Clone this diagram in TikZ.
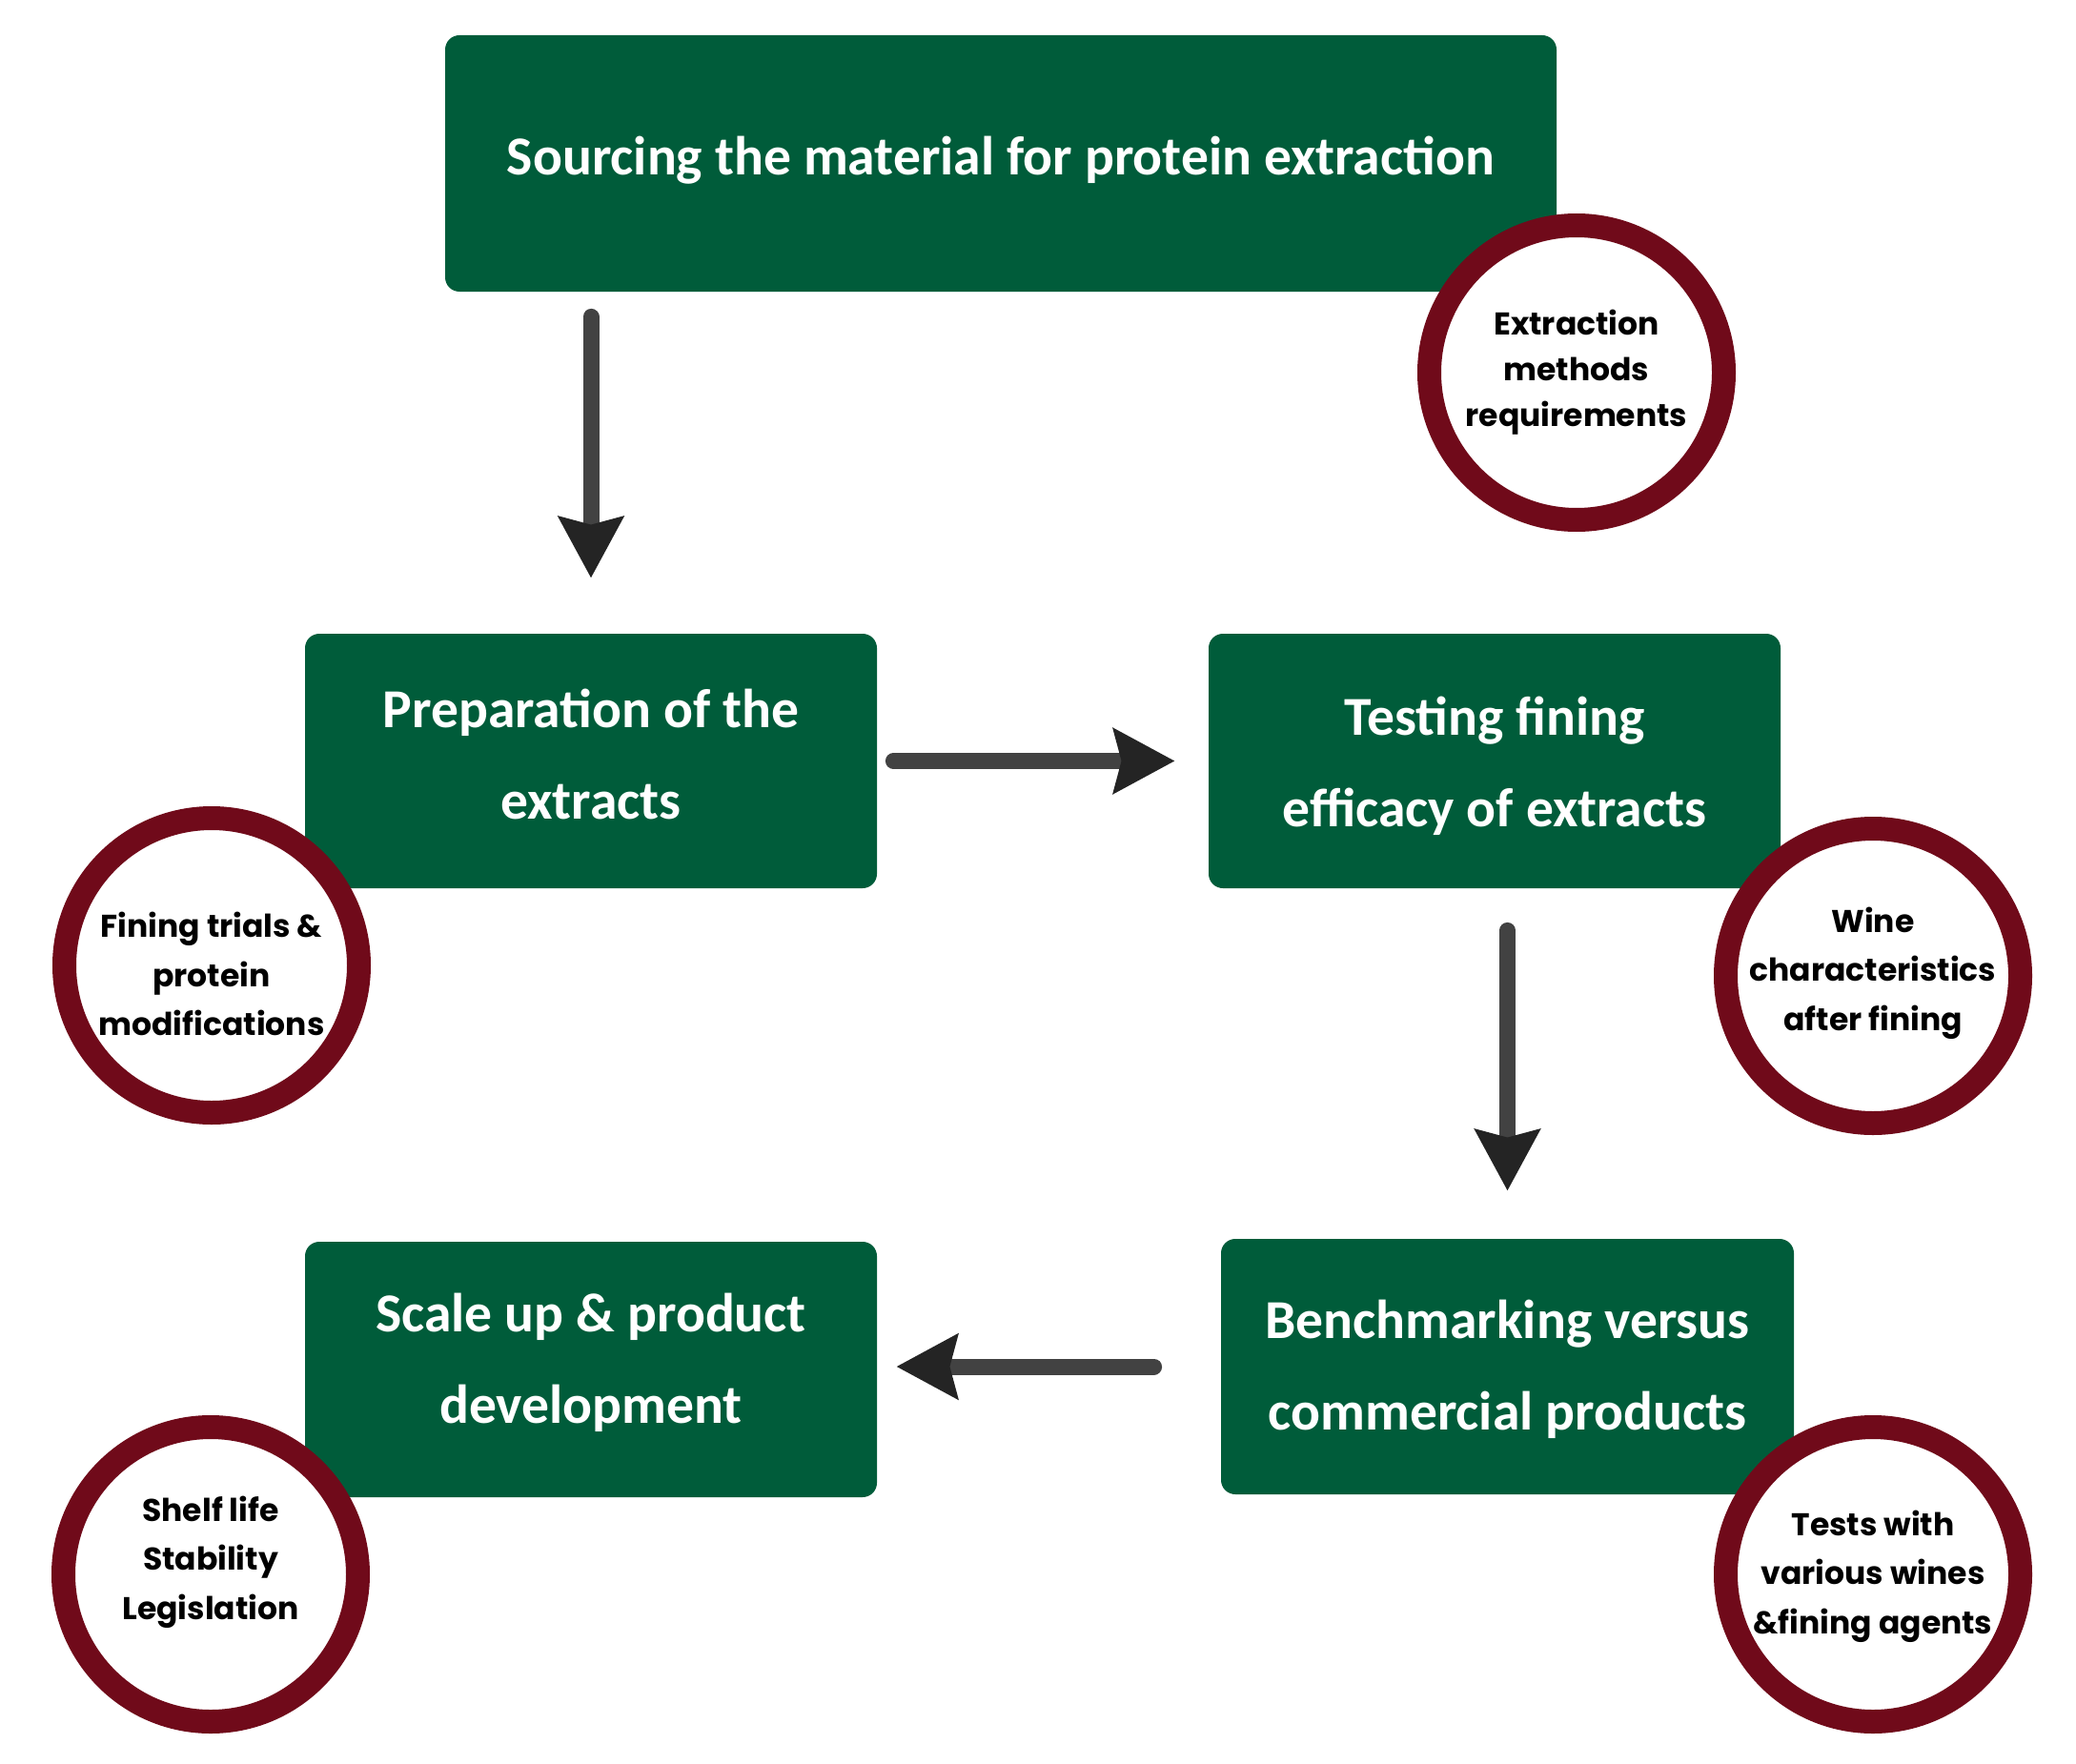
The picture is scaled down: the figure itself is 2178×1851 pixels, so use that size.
\documentclass[tikz,border=0pt]{standalone}
\usepackage{fontspec}
\usetikzlibrary{arrows.meta}
\newfontfamily\boxfont{Carlito}
\newfontfamily\circfont{Poppins}
\definecolor{boxgreen}{RGB}{0,92,58}
\definecolor{ringred}{RGB}{112,10,26}
\definecolor{shaftgray}{RGB}{66,66,66}
\definecolor{headgray}{RGB}{36,36,36}
\tikzset{
  stepbox/.style={fill=boxgreen, draw=none, rounded corners=7.5pt, inner sep=0pt},
  steptext/.style={text=white, align=center, inner sep=0pt,
    font=\boxfont\bfseries\fontsize{28.8}{48}\selectfont},
  ring/.style={circle, draw=ringred, fill=white, line width=12.5pt, minimum size=154.5pt, inner sep=0pt},
  ringtext/.style={align=center, text=black, inner sep=0pt, font=\circfont\bfseries\fontsize{16.5}{25.7}\selectfont},
  flowarrow/.style={draw=shaftgray, line width=8.5pt, line cap=round,
    -{Stealth[length=32pt, width=33.5pt, inset=4pt, fill=headgray, color=headgray]}}
}
\begin{document}
\begin{tikzpicture}[x=0.5pt, y=-0.5pt]
\useasboundingbox (0,0) rectangle (2178,1851);
\fill[white] (0,0) rectangle (2178,1851);
% boxes
\node[stepbox, minimum width=583pt, minimum height=134.5pt] (top) at (1050,171.5) {};
\node[stepbox, minimum width=300pt, minimum height=133.5pt] (prep) at (620,798.5) {};
\node[stepbox, minimum width=300pt, minimum height=133.5pt] (test) at (1568,798.5) {};
\node[stepbox, minimum width=300pt, minimum height=134pt] (scale) at (620,1437) {};
\node[stepbox, minimum width=300.5pt, minimum height=134pt] (bench) at (1581.5,1434) {};
\node[steptext] (topT) at ([yshift=1.5pt]top.center) {Sourcing the material for protein extraction};
\node[steptext] (prepT) at ([yshift=3.5pt]prep.center) {Preparation of the\\extracts};
\node[steptext] (testT) at ([yshift=-2.5pt]test.center) {Testing fining\\efficacy of extracts};
\node[steptext] (scaleT) at ([yshift=3.5pt]scale.center) {Scale up \& product\\development};
\node[steptext] (benchT) at ([yshift=-1.5pt]bench.center) {Benchmarking versus\\commercial products};
% circles
\node[ring] (c1) at (1654,391) {};
\node[ring] (c2) at (222,1013) {};
\node[ring] (c3) at (1965,1024) {};
\node[ring] (c4) at (221,1652) {};
\node[ring] (c5) at (1965,1652) {};
\node[ringtext, font=\circfont\bfseries\fontsize{16.5}{24}\selectfont] (t1) at (1654,391) {Extraction\\methods\\requirements};
\node[ringtext] (t2) at (222,1022) {Fining trials \&\\protein\\modifications};
\node[ringtext] (t3) at (1965,1021) {Wine\\characteristics\\after fining};
\node[ringtext] (t4) at (221,1639) {Shelf life\\Stability\\Legislation};
\node[ringtext] (t5) at (1965,1654) {Tests with\\various wines\\\&fining agents};
% arrows
\draw[flowarrow, shorten <=13pt, shorten >=29pt] (prep.north |- top.south) -- (prep.north);
\draw[flowarrow, shorten <=8.5pt, shorten >=17.5pt] (prep.east) -- (test.west);
\draw[flowarrow, shorten <=22pt, shorten >=25pt] (bench.north |- test.south) -- (bench.north);
\draw[flowarrow, shorten <=35pt, shorten >=10pt] (bench.west) -- (bench.west -| scale.east);
\end{tikzpicture}
\end{document}
